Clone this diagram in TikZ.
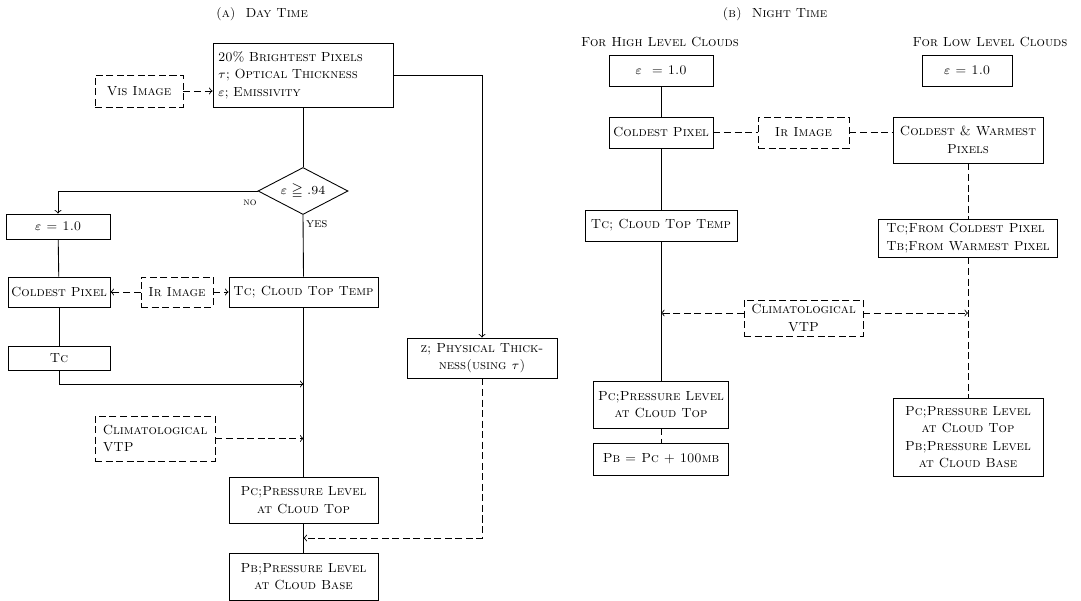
\documentclass[tikz,border=0pt]{standalone}
\usepackage{amssymb}
\usepackage{amsmath}
\usepackage{tikz}
\usetikzlibrary{positioning,calc,shapes.geometric}
\tikzstyle{sbox}=[draw=black, line width=0.5pt, align=center, inner sep=0.5mm,
        font=\fontsize{7.5}{10}\selectfont\scshape]
\tikzstyle{dbox}=[sbox, dash pattern=on 4pt off 2pt]
\tikzstyle{lbl}=[font=\fontsize{7.5}{10}\selectfont\scshape, inner sep=0.5mm]
\tikzstyle{dline}=[dash pattern=on 4pt off 2pt]
\tikzset{sz/.style 2 args={minimum width=#1*0.02cm, minimum height=#2*0.02cm}}

\begin{document}
\begin{tikzpicture}[x=0.02cm, y=-0.02cm, line width=0.5pt]
        \useasboundingbox (0,0) rectangle (1081,601);

        % (a) day time
        \node[lbl] (ta) at (262,14) {(a)\ \ Day Time};
        \node[sbox, sz={180}{64}, align=left, text width=3.4cm] (bright) at (303,75)
            {20\% Brightest Pixels\\ $\tau$; Optical Thickness\\ $\varepsilon$; Emissivity};
        \node[dbox, sz={88}{32}] (vis) at (139,91) {Vis Image};
        \node[sbox, diamond, aspect=2, sz={90}{47}, inner sep=0pt] (dia) at (303,191)
            {$\varepsilon \geqq .94$};
        \node[lbl, font=\fontsize{6}{7}\selectfont\scshape] (no) at (250,203) {no};
        \node[sbox, sz={104}{25}] (eps1) at (58,226.5) {$\varepsilon$ = 1.0};
        \node[sbox, sz={102}{30}] (cold1) at (59,292) {Coldest Pixel};
        \node[dbox, sz={72}{30}] (ir1) at (177,292) {Ir Image};
        \node[sbox, sz={149}{30}] (tc1) at (303.5,292) {Tc; Cloud Top Temp};
        \node[sbox, sz={102}{24}] (tcb) at (59,358) {Tc};
        \node[dbox, sz={120}{45}, align=left] (clim1) at (155,438.5) {Climatological\\ VTP\hspace*{1.2cm}};
        \node[sbox, sz={150}{40}] (phys) at (482,358) {z; Physical Thick-\\ ness(using $\tau$)};
        \node[sbox, sz={149}{46}] (pc1) at (303.5,500) {Pc;Pressure Level\\ at Cloud Top};
        \node[sbox, sz={149}{47}] (pb1) at (303.5,576.5) {Pb;Pressure Level\\ at Cloud Base};
        \coordinate (j1) at (303.5,384);
        \coordinate (j3) at (303.5,538);

        \draw[dline, ->] (vis.east) -- (vis.east -| bright.west);
        \draw (bright.south) -- (dia.north);
        \draw[->] (dia.west) -| (eps1.north);
        \draw (dia.south) -- node[lbl, right, pos=0.15] (yes) {yes} (tc1.north);
        \draw (eps1) -- (cold1);
        \draw[dline, ->] (ir1.west) -- (cold1.east);
        \draw[dline, ->] (ir1.east) -- (tc1.west);
        \draw (cold1) -- (tcb);
        \draw (tc1.south) -- (pc1.north);
        \draw[->] (tcb.south) |- (j1);
        \draw[dline, ->] (clim1.east) -- (clim1.east -| pc1.north);
        \draw (pc1) -- (pb1);
        \draw[->] (bright.east) -| (phys.north);
        \draw[dline, ->] (phys.south) |- (j3);

        % (b) night time
        \node[lbl] (tb) at (775,14) {(b)\ \ Night Time};
        \node[lbl] (hi) at (660,42) {For High Level Clouds};
        \node[lbl] (lo) at (990,42) {For Low Level Clouds};
        \node[sbox, sz={104}{31}] (eps2) at (661,70.5) {$\varepsilon$\ \ = 1.0};
        \node[sbox, sz={90}{31}] (eps3) at (967,70.5) {$\varepsilon$ = 1.0};
        \node[sbox, sz={104}{31}] (cold2) at (661,132.5) {Coldest Pixel};
        \node[dbox, sz={91}{31}] (ir2) at (803.5,132.5) {Ir Image};
        \node[sbox, sz={150}{46}] (cw) at (968,140) {Coldest \& Warmest\\ Pixels};
        \node[sbox, sz={152}{31}] (tc2) at (661,225.5) {Tc; Cloud Top Temp};
        \node[sbox, sz={179}{38}, align=left] (tctb) at (968,238)
            {Tc;From Coldest Pixel\\ Tb;From Warmest Pixel};
        \node[dbox, sz={119}{36}] (clim2) at (803.5,318) {Climatological\\ VTP};
        \node[sbox, sz={135}{47}] (pc2) at (661,404.5) {Pc;Pressure Level\\ at Cloud Top};
        \node[sbox, sz={135}{32}] (pb2) at (661,459) {Pb = Pc + 100mb};
        \node[sbox, sz={150}{78}] (pcpb) at (968,437)
            {Pc;Pressure Level\\ at Cloud Top\\ Pb;Pressure Level\\ at Cloud Base};
        \coordinate (k1) at (661,313);
        \coordinate (k2) at (968,313);

        \draw (eps2) -- (cold2);
        \draw[dline] (cold2) -- (ir2);
        \draw[dline] (ir2.east) -- (ir2.east -| cw.west);
        \draw (cold2) -- (tc2);
        \draw (tc2) -- (pc2);
        \draw[dline] (pc2) -- (pb2);
        \draw[dline] (cw) -- (tctb);
        \draw[dline] (tctb) -- (pcpb);
        \draw[dline, ->] (k1 -| clim2.west) -- (k1);
        \draw[dline, ->] (k2 -| clim2.east) -- (k2);

    \end{tikzpicture}
\end{document}
